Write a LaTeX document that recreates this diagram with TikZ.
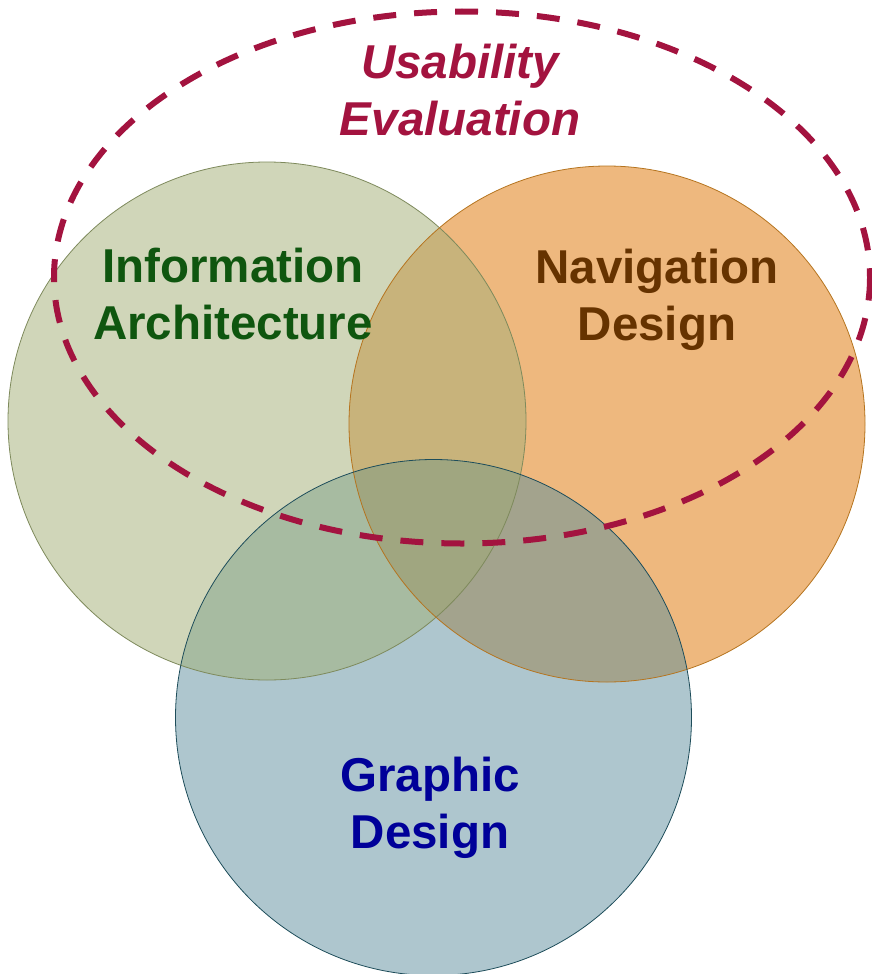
\documentclass[tikz,border=0pt]{standalone}
\usepackage{fontspec}
\setmainfont{Liberation Sans}
\definecolor{cL}{HTML}{D0D6B9}
\definecolor{cR}{HTML}{EEB87E}
\definecolor{cB}{HTML}{AEC6CE}
\definecolor{cLR}{HTML}{C8B37B}
\definecolor{cLB}{HTML}{A7BBA1}
\definecolor{cRB}{HTML}{A3A38D}
\definecolor{cLRB}{HTML}{A0A680}
\definecolor{oL}{HTML}{7E8A5C}
\definecolor{oR}{HTML}{B5741F}
\definecolor{oB}{HTML}{1E4D5A}
\definecolor{tIA}{HTML}{0F560F}
\definecolor{tND}{HTML}{663300}
\definecolor{tGD}{HTML}{000099}
\definecolor{tUE}{HTML}{A3133F}
\begin{document}
\begin{tikzpicture}[x=1pt,y=-1pt,
  lbl/.style={align=center,font=\fontsize{47.5}{57}\selectfont\bfseries,inner sep=0pt},
  outl/.style={line width=0.8pt}]
\useasboundingbox (0,0) rectangle (872,974);
\coordinate (L) at (267,421);
\coordinate (R) at (607,424);
\coordinate (B) at (433.5,717.5);
\coordinate (E) at (462,277.5);
% base fills
\fill[cL] (L) circle[radius=259];
\fill[cR] (R) circle[radius=258];
\fill[cB] (B) circle[radius=258];
% overlaps
\begin{scope}\clip (L) circle[radius=259]; \fill[cLR] (R) circle[radius=258];\end{scope}
\begin{scope}\clip (L) circle[radius=259]; \fill[cLB] (B) circle[radius=258];\end{scope}
\begin{scope}\clip (R) circle[radius=258]; \fill[cRB] (B) circle[radius=258];\end{scope}
\begin{scope}\clip (L) circle[radius=259]; \clip (R) circle[radius=258]; \fill[cLRB] (B) circle[radius=258];\end{scope}
% outlines
\draw[outl,oL] (L) circle[radius=259];
\draw[outl,oR] (R) circle[radius=258];
\draw[outl,oB] (B) circle[radius=258];
% dashed ellipse
\draw[tUE,line width=6pt,dash pattern=on 23pt off 18pt] (E) ellipse[x radius=408,y radius=266];
% labels
\node[lbl,tIA] (ia) at (233,294) {Information\\Architecture};
\node[lbl,tND] (nd) at (657,299.5) {Navigation\\Design};
\node[lbl,tGD] (gd) at (430,807.5) {Graphic\\Design};
\node[lbl,tUE,font=\fontsize{47.5}{57}\selectfont\bfseries\itshape] (ue) at (460,90.5) {Usability\\Evaluation};
\end{tikzpicture}
\end{document}
